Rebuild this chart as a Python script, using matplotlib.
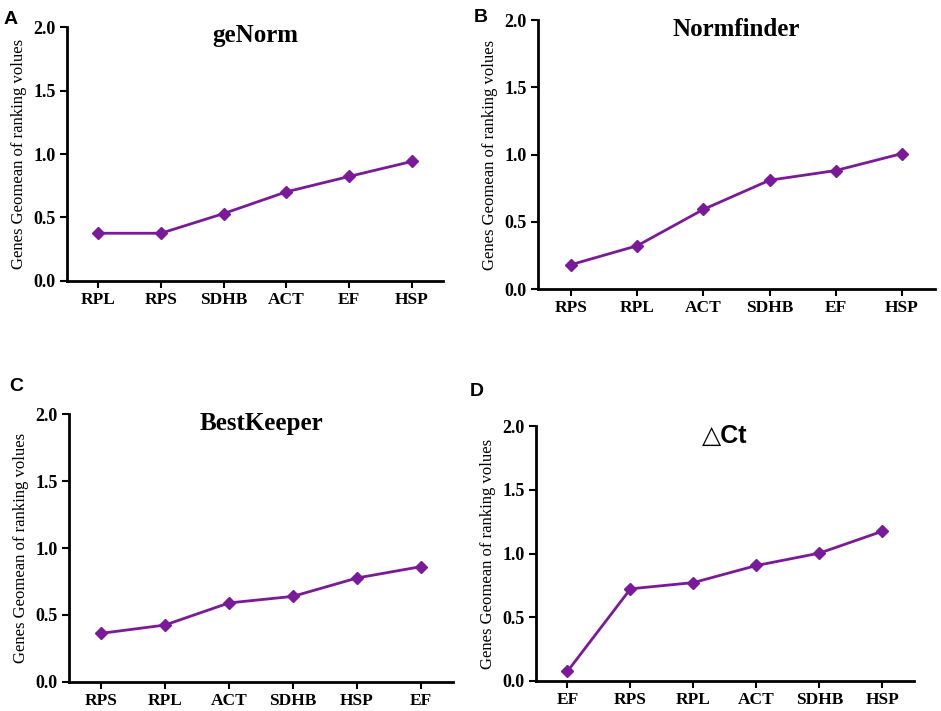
#!/usr/bin/env python

import matplotlib
matplotlib.use("Agg")
from matplotlib import pyplot


# data

genes_a = ["RPL", "RPS", "SDHB", "ACT", "EF", "HSP"]
vals_a = [0.376, 0.376, 0.531, 0.702, 0.823, 0.941]

genes_b = ["RPS", "RPL", "ACT", "SDHB", "EF", "HSP"]
vals_b = [0.181, 0.322, 0.592, 0.809, 0.881, 1.007]

genes_c = ["RPS", "RPL", "ACT", "SDHB", "HSP", "EF"]
vals_c = [0.363, 0.425, 0.590, 0.639, 0.776, 0.861]

genes_d = ["EF", "RPS", "RPL", "ACT", "SDHB", "HSP"]
vals_d = [0.076, 0.723, 0.772, 0.906, 1.003, 1.175]

titles = ["geNorm", "Normfinder", "BestKeeper", "\u25b3Ct"]
letters = ["A", "B", "C", "D"]
yticks = [0.0, 0.5, 1.0, 1.5, 2.0]

PURPLE = "#7a1a9a"
SERIF = "Liberation Serif"
SANS = "Liberation Sans"

# axes rectangles in figure fractions (left, bottom, width, height)
rects = [
    (0.0712, 0.6048, 0.3996, 0.3572),
    (0.5717, 0.5935, 0.4219, 0.3783),
    (0.0733, 0.0408, 0.4080, 0.3769),
    (0.5696, 0.0422, 0.4017, 0.3586),
]
letter_pos = [(0.004, 0.985), (0.503, 0.988), (0.010, 0.468), (0.499, 0.462)]

fig = pyplot.figure(figsize=(9.41, 7.11), dpi=100)

panels = [(genes_a, vals_a), (genes_b, vals_b), (genes_c, vals_c), (genes_d, vals_d)]

for i, (genes, vals) in enumerate(panels):
    ax = fig.add_axes(rects[i])
    x = list(range(len(genes)))
    ax.plot(x, vals, color=PURPLE, lw=2.0, marker="D", ms=6, mfc=PURPLE, mec=PURPLE)

    ax.set_xlim(-0.5, 5.5)
    ax.set_ylim(0.0, 2.0)
    ax.set_xticks(x)
    ax.set_xticklabels(genes, fontfamily=SERIF, fontweight="bold", fontsize=12.5)
    ax.set_yticks(yticks)
    ax.set_yticklabels(["%.1f" % v for v in yticks], fontfamily=SERIF,
                       fontweight="bold", fontsize=13)

    for s in ["top", "right"]:
        ax.spines[s].set_visible(False)
    for s in ["left", "bottom"]:
        ax.spines[s].set_linewidth(2.0)
    ax.tick_params(direction="out", length=5, width=1.5, pad=3)

    ax.set_ylabel("Genes Geomean of ranking volues", fontfamily=SERIF, fontsize=12,
                  labelpad=5)

    if i == 3:
        ax.text(0.5, 0.96, titles[i], transform=ax.transAxes, ha="center",
                va="center", fontfamily=[SANS, "DejaVu Sans"], fontweight="bold",
                fontsize=18)
    else:
        ax.text(0.5, 0.965, titles[i], transform=ax.transAxes, ha="center",
                va="center", fontfamily=SERIF, fontweight="bold", fontsize=18)

    fig.text(letter_pos[i][0], letter_pos[i][1], letters[i], ha="left", va="top",
             fontfamily=SANS, fontweight="bold", fontsize=14)

fig.savefig("out.png", dpi=100)
